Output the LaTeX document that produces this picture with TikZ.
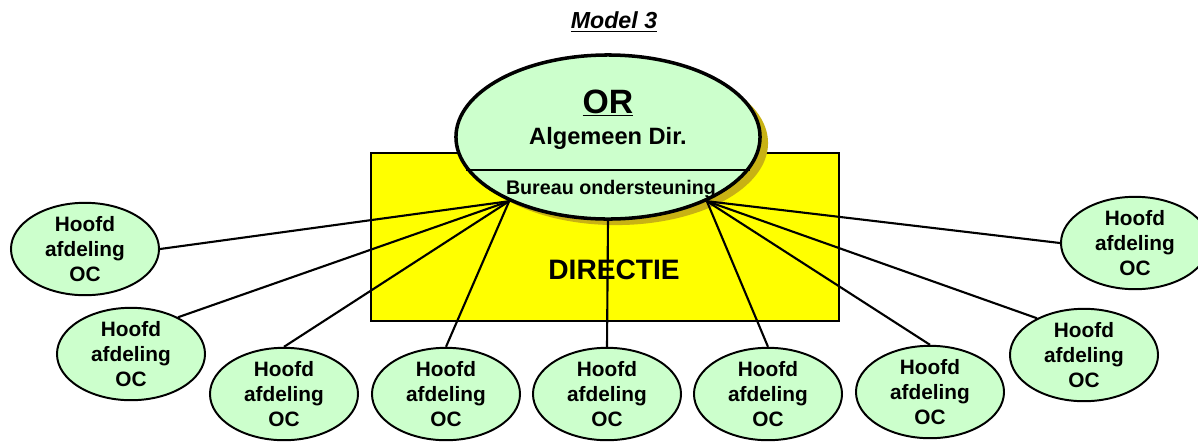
\documentclass[tikz,border=0pt]{standalone}
\usepackage{fontspec}
\setmainfont{Liberation Sans}
\usetikzlibrary{shapes.geometric,shadows}
\definecolor{ocgreen}{RGB}{204,255,204}
\definecolor{diryellow}{RGB}{255,255,0}
\definecolor{shadowgold}{RGB}{200,178,20}

\begin{document}
\begin{tikzpicture}
        [x=0.025cm,y=-0.025cm,font=\bfseries,
        oc node/.style={ellipse,draw,line width=1.4pt,fill=ocgreen,minimum width=3.7cm,minimum height=2.3cm,inner sep=0pt,align=center,font=\fontsize{14.8}{17.8}\selectfont\bfseries},
        or node/.style={ellipse,draw,line width=2.5pt,fill=ocgreen,minimum width=7.6cm,minimum height=4.1cm,drop shadow={shadow xshift=5.7pt,shadow yshift=-4.3pt,fill=shadowgold,opacity=1}},
        dir node/.style={rectangle,draw,line width=1.4pt,fill=diryellow,minimum width=11.7cm,minimum height=4.2cm},
        link/.style={line width=1.5pt}]
    \useasboundingbox (0,0) rectangle (1198,443);
    
    \node (title) at (614,22) {\fontsize{16.5}{20}\selectfont\itshape\underline{Model 3}};
    
    \node[dir node] (dir) at (605,237) {};
    \node (dirtext) at (614,270) {\fontsize{20}{24}\selectfont DIRECTIE};
    
    \node[or node] (or) at (608,137) {};
    \draw[line width=1.4pt] (or.193) -- (or.-13);
    \node (ortext) at (608,103) {\fontsize{24}{28}\selectfont\underline{OR}};
    \node (algdir) at (608,138) {\fontsize{16.8}{20}\selectfont Algemeen Dir.};
    \node (bureau) at (611,189) {\fontsize{14}{16}\selectfont Bureau ondersteuning};
    
    \node[oc node] (oc1) at (85,249) {Hoofd\\afdeling\\OC};
    \node[oc node] (oc2) at (131,354) {Hoofd\\afdeling\\OC};
    \node[oc node] (oc3) at (284,394) {Hoofd\\afdeling\\OC};
    \node[oc node] (oc4) at (446,394) {Hoofd\\afdeling\\OC};
    \node[oc node] (oc5) at (607,394) {Hoofd\\afdeling\\OC};
    \node[oc node] (oc6) at (768,394) {Hoofd\\afdeling\\OC};
    \node[oc node] (oc7) at (930,392) {Hoofd\\afdeling\\OC};
    \node[oc node] (oc8) at (1084,355) {Hoofd\\afdeling\\OC};
    \node[oc node] (oc9) at (1135,243) {Hoofd\\afdeling\\OC};
    
    \path[link]
    (or.213) edge (oc1.east)
    (or.213) edge (oc2.38)
    (or.213) edge (oc3.north)
    (or.213) edge (oc4.north)
    (or.south) edge (oc5.north)
    (or.-33) edge (oc6.north)
    (or.-33) edge (oc7.north)
    (or.-33) edge (oc8.142)
    (or.-33) edge (oc9.west);
    
    
    \end{tikzpicture}
\end{document}
